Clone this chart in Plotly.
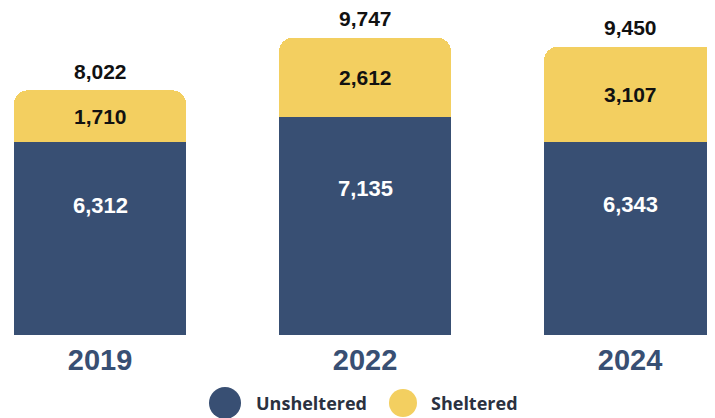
import plotly.graph_objects as go

years = ["2019", "2022", "2024"]
unsheltered = [6312, 7135, 6343]
sheltered = [1710, 2612, 3107]
totals = [8022, 9747, 9450]
series_names = ["Unsheltered", "Sheltered"]

NAVY = "#384f73"
YELLOW = "#f3cf60"
NUM_FONT = "Liberation Sans, Arial, sans-serif"

# page body has an 8px margin; figure coords are shifted by that
OFF = 8
W, H = 715 - OFF, 418 - OFF
PLOT_BOTTOM = 335 - OFF

fig = go.Figure()
fig.add_trace(go.Bar(x=years, y=unsheltered, name=series_names[0],
                     marker=dict(color=NAVY, line=dict(width=0)), width=0.65,
                     showlegend=False, hoverinfo="skip"))
fig.add_trace(go.Bar(x=years, y=sheltered, name=series_names[1],
                     marker=dict(color=YELLOW, line=dict(width=0)), width=0.65,
                     showlegend=False, hoverinfo="skip"))

ann = []
for i, yr in enumerate(years):
    ann.append(dict(x=i, y=unsheltered[i] * 0.675, text=f"<b>{unsheltered[i]:,}</b>",
                    showarrow=False, font=dict(family=NUM_FONT, size=22, color="white"),
                    xanchor="center", yanchor="middle"))
    ann.append(dict(x=i, y=unsheltered[i] + sheltered[i] / 2, text=f"<b>{sheltered[i]:,}</b>",
                    showarrow=False, font=dict(family=NUM_FONT, size=21, color="#111111"),
                    xanchor="center", yanchor="middle"))
    ann.append(dict(x=i, y=totals[i], text=f"<b>{totals[i]:,}</b>", yshift=19,
                    showarrow=False, font=dict(family=NUM_FONT, size=21, color="#111111"),
                    xanchor="center", yanchor="middle"))

# custom legend
leg_colors = [NAVY, YELLOW]
leg_x = [225 - OFF, 403 - OFF]
leg_r = [16, 14]
text_x = [254 - OFF, 429 - OFF]
shapes = []
cy_px = 403 - OFF
for name, c, cx, r, tx in zip(series_names, leg_colors, leg_x, leg_r, text_x):
    cy = (PLOT_BOTTOM - cy_px) / PLOT_BOTTOM
    shapes.append(dict(type="circle", xref="paper", yref="paper",
                       x0=(cx - r) / W, x1=(cx + r) / W,
                       y0=cy - r / PLOT_BOTTOM, y1=cy + r / PLOT_BOTTOM,
                       fillcolor=c, line=dict(width=0)))
    ann.append(dict(xref="paper", yref="paper", x=tx / W, y=cy, text=f"<b>{name}</b>",
                    showarrow=False, xanchor="left", yanchor="middle",
                    font=dict(family="Open Sans, sans-serif", size=18, color="#2a3140")))

px_per_cat = 265
c0 = 100 - OFF
fig.update_layout(
    width=W, height=H,
    margin=dict(l=0, r=0, t=0, b=H - PLOT_BOTTOM),
    barmode="stack",
    barcornerradius=14,
    plot_bgcolor="white", paper_bgcolor="white",
    xaxis=dict(type="category", range=[-c0 / px_per_cat, (W - c0) / px_per_cat],
               showgrid=False, zeroline=False,
               showline=False, ticks="", ticklabelstandoff=5,
               tickfont=dict(family=NUM_FONT, size=29, color=NAVY, weight="bold")),
    yaxis=dict(range=[0, PLOT_BOTTOM / 0.0305], visible=False, showgrid=False, zeroline=False),
    annotations=ann,
    shapes=shapes,
)

fig.write_html("out.html")
